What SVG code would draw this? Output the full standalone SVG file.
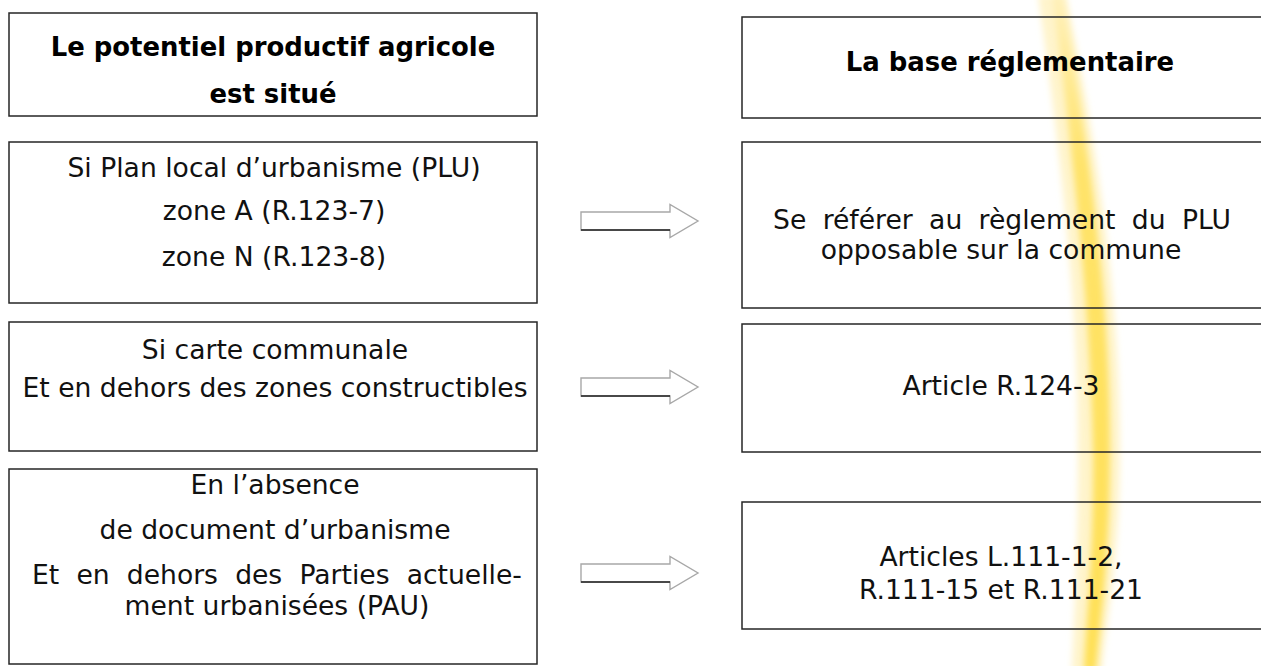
<svg xmlns="http://www.w3.org/2000/svg" width="1261" height="666" viewBox="0 0 1261 666">
<defs>
<style>
.box{fill:none;stroke:#262626;stroke-width:1.5}
.t{font-family:Verdana,"DejaVu Sans",sans-serif;font-size:26.6px;fill:#111;text-anchor:middle}
.b{font-family:Verdana,"DejaVu Sans",sans-serif;font-size:25.9px;font-weight:bold;fill:#000;text-anchor:middle}
.arr{fill:#fff;stroke:#a8a8a8;stroke-width:1.4}
.arrb{stroke:#222;stroke-width:1.6}
</style>
<filter id="soft" x="-50%" y="-10%" width="200%" height="120%"><feGaussianBlur stdDeviation="3"/></filter>
<linearGradient id="core" gradientUnits="userSpaceOnUse" x1="0" y1="0" x2="0" y2="666">
<stop offset="0" stop-color="#fff0b8"/>
<stop offset="0.25" stop-color="#ffe36a"/>
<stop offset="1" stop-color="#ffe056"/>
</linearGradient>
<path id="ah" d="M0,-9 L89,-9 L89,-16.5 L117,0 L89,16.5 L89,9 L0,9 Z"/>
</defs>
<rect width="1261" height="666" fill="#fff"/>
<g id="stripe">
<path d="M1038,-5 C1060,150 1078,300 1078,450 C1078,560 1074,620 1072,671 L1102,671 C1106,620 1120,560 1120,450 C1120,300 1098,150 1066,-5 Z" fill="#fff4cc" filter="url(#soft)"/>
<path d="M1052,-5 C1072,150 1090,300 1093,450 C1094,560 1086,620 1084,671 L1096,671 C1100,620 1110,560 1110,450 C1110,300 1090,150 1062,-5 Z" fill="url(#core)" filter="url(#soft)"/>
</g>
<g id="n1"><rect class="box" x="9" y="13" width="528" height="103"/>
<text class="b" x="273" y="56">Le potentiel productif agricole</text>
<text class="b" x="273" y="103">est situé</text></g>
<g id="n2"><rect class="box" x="9" y="142" width="528" height="161"/>
<text class="t" x="274" y="177">Si Plan local d’urbanisme (PLU)</text>
<text class="t" x="274" y="220">zone A (R.123-7)</text>
<text class="t" x="274" y="266">zone N (R.123-8)</text></g>
<g id="n3"><rect class="box" x="9" y="322" width="528" height="129"/>
<text class="t" x="275" y="359">Si carte communale</text>
<text class="t" x="275" y="397">Et en dehors des zones constructibles</text></g>
<g id="n4"><rect class="box" x="9" y="469" width="528" height="195"/>
<text class="t" x="275" y="494">En l’absence</text>
<text class="t" x="275" y="539">de document d’urbanisme</text>
<text class="t" x="277" y="584" word-spacing="8.7">Et en dehors des Parties actuelle-</text>
<text class="t" x="277" y="615">ment urbanisées (PAU)</text></g>
<g id="r1"><rect class="box" x="742" y="17" width="560" height="101"/>
<text class="b" x="1010" y="71">La base réglementaire</text></g>
<g id="r2"><rect class="box" x="742" y="142" width="560" height="166"/>
<text class="t" x="1002" y="229" word-spacing="7.9">Se référer au règlement du PLU</text>
<text class="t" x="1001" y="259">opposable sur la commune</text></g>
<g id="r3"><rect class="box" x="742" y="324" width="560" height="128"/>
<text class="t" x="1001" y="395">Article R.124-3</text></g>
<g id="r4"><rect class="box" x="742" y="502" width="560" height="127"/>
<text class="t" x="1001" y="566">Articles L.111-1-2,</text>
<text class="t" x="1001" y="599">R.111-15 et R.111-21</text></g>
<g id="connectors">
<use href="#ah" class="arr" x="581" y="221"/>
<line class="arrb" x1="581" y1="230" x2="670" y2="230"/>
<use href="#ah" class="arr" x="581" y="387"/>
<line class="arrb" x1="581" y1="396" x2="670" y2="396"/>
<use href="#ah" class="arr" x="581" y="573"/>
<line class="arrb" x1="581" y1="582" x2="670" y2="582"/>
</g>
</svg>
